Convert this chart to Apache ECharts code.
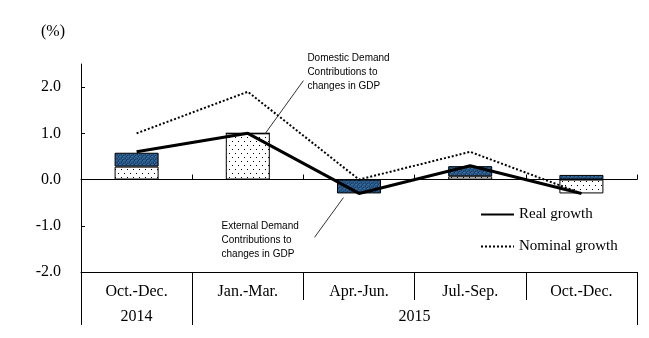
<!DOCTYPE html>
<html><head><meta charset="utf-8">
<script src="https://cdn.jsdelivr.net/npm/echarts@6/dist/echarts.min.js"></script>
<style>html,body{margin:0;padding:0;background:#fff}#c{width:649px;height:338px}</style>
</head><body><div id="c"></div>
<script>
const categories = ['Oct.-Dec.', 'Jan.-Mar.', 'Apr.-Jun.', 'Jul.-Sep.', 'Oct.-Dec.'];
const years = ['2014', '2015'];
const yearSpans = [1, 4];
const domestic = [0.28, 1.0, 0.0, 0.07, -0.3];
const external = [0.3, 0.0, -0.3, 0.22, 0.1];
const realGrowth = [0.6, 1.0, -0.3, 0.3, -0.3];
const nominalGrowth = [1.0, 1.9, 0.0, 0.6, -0.3];
const yTicks = [-2, -1, 0, 1, 2];

// year boundaries / centres on the helper value axis (one unit per quarter)
const yearBounds = [0];
const yearCenters = [];
yearSpans.forEach((s, i) => { yearCenters.push(yearBounds[i] + s / 2); yearBounds.push(yearBounds[i] + s); });

function makeDots() {
  const c = document.createElement('canvas'); c.width = 6; c.height = 8;
  const g = c.getContext('2d');
  g.fillStyle = '#fff'; g.fillRect(0, 0, 6, 8);
  g.fillStyle = '#000'; g.fillRect(1, 1, 1, 1); g.fillRect(4, 5, 1, 1);
  return c;
}
function makeBlue() {
  const c = document.createElement('canvas'); c.width = 4; c.height = 4;
  const g = c.getContext('2d');
  g.fillStyle = '#285682'; g.fillRect(0, 0, 4, 4);
  g.fillStyle = '#3a6ea2'; g.fillRect(0, 0, 1, 1); g.fillRect(2, 2, 1, 1); g.fillRect(3, 0, 1, 1);
  g.fillStyle = '#173d66'; g.fillRect(1, 2, 1, 1); g.fillRect(3, 3, 1, 1); g.fillRect(2, 0, 1, 1);
  return c;
}

const serif = 'Liberation Serif';
const chart = echarts.init(document.getElementById('c'), null, { renderer: 'canvas' });
chart.setOption({
  animation: false,
  backgroundColor: '#fff',
  title: { text: '(%)', left: 36, top: 19, textStyle: { fontFamily: serif, fontSize: 16, fontWeight: 'normal', color: '#000' } },
  grid: { left: 81, right: 12, top: 64, bottom: 66, containLabel: false },
  legend: {
    data: ['Real growth', 'Nominal growth'],
    orient: 'vertical', left: 475, top: 202, itemWidth: 33, itemHeight: 14, itemGap: 17,
    itemStyle: { opacity: 0 },
    textStyle: { fontFamily: serif, fontSize: 15, color: '#000' }
  },
  xAxis: [
    {
      type: 'category', data: categories, position: 'bottom',
      axisLine: { onZero: false, lineStyle: { color: '#000', width: 1 } },
      axisTick: { show: true, length: 28, interval: 0, lineStyle: { color: '#000' } },
      axisLabel: { interval: 0, margin: 12, fontFamily: serif, fontSize: 16, color: '#000' },
      splitLine: { show: false }
    },
    {
      type: 'value', min: 0, max: yearBounds[yearBounds.length - 1], position: 'bottom',
      axisLine: { show: false, onZero: false },
      axisTick: { show: true, length: 53, customValues: yearBounds, lineStyle: { color: '#000' } },
      axisLabel: { customValues: yearCenters, margin: 37, fontFamily: serif, fontSize: 16, color: '#000',
        formatter: v => years[yearCenters.indexOf(v)] },
      splitLine: { show: false }
    },
    {
      type: 'category', data: categories, position: 'bottom',
      axisLine: { onZero: true, lineStyle: { color: '#000', width: 1 } },
      axisTick: { show: true, inside: true, length: 5, interval: 0, lineStyle: { color: '#000' } },
      axisLabel: { show: false },
      splitLine: { show: false }
    }
  ],
  yAxis: {
    type: 'value', min: -2, max: 2.5,
    axisLine: { show: true, lineStyle: { color: '#000', width: 1 } },
    axisTick: { show: true, inside: true, length: 4, customValues: yTicks, lineStyle: { color: '#000' } },
    axisLabel: { customValues: yTicks, margin: 20, fontFamily: serif, fontSize: 16, color: '#000',
      formatter: v => v.toFixed(1) },
    splitLine: { show: false }
  },
  series: [
    { name: 'Domestic Demand', type: 'bar', stack: 'g', xAxisIndex: 0, barWidth: 44, data: domestic,
      itemStyle: { color: { image: makeDots(), repeat: 'repeat' }, borderColor: '#000', borderWidth: 1 }, z: 2 },
    { name: 'External Demand', type: 'bar', stack: 'g', xAxisIndex: 0, barWidth: 44, data: external,
      itemStyle: { color: { image: makeBlue(), repeat: 'repeat' }, borderColor: '#000', borderWidth: 1 }, z: 2 },
    { name: 'Real growth', type: 'line', xAxisIndex: 0, data: realGrowth, symbol: 'none',
      lineStyle: { color: '#000', width: 3 }, itemStyle: { color: '#000' }, z: 5 },
    { name: 'Nominal growth', type: 'line', xAxisIndex: 0, data: nominalGrowth, symbol: 'none',
      lineStyle: { color: '#000', width: 2, type: [2, 2] }, itemStyle: { color: '#000' }, z: 5 }
  ]
});

// annotations anchored in data space (helper value x-axis: quarter units)
const annotations = [
  { text: 'Domestic Demand\nContributions to\nchanges in GDP', from: [2.0, 2.14], to: [1.655, 0.99], dx: 4, dy: -29 },
  { text: 'External Demand\nContributions to\nchanges in GDP', from: [2.10, -1.25], to: [2.36, -0.39], dx: -93, dy: -18 }
];
const px = p => chart.convertToPixel({ xAxisIndex: 1, yAxisIndex: 0 }, p);
const gfx = [];
annotations.forEach(a => {
  const f = px(a.from), t = px(a.to);
  gfx.push({ type: 'line', shape: { x1: f[0], y1: f[1], x2: t[0], y2: t[1] }, style: { stroke: '#333', lineWidth: 1 }, z: 10 });
  gfx.push({ type: 'text', x: f[0] + a.dx, y: f[1] + a.dy,
    style: { text: a.text, fill: '#000', font: '10px "Liberation Sans"', lineHeight: 14 }, z: 10 });
});
chart.setOption({ graphic: gfx });
</script>
</body></html>
